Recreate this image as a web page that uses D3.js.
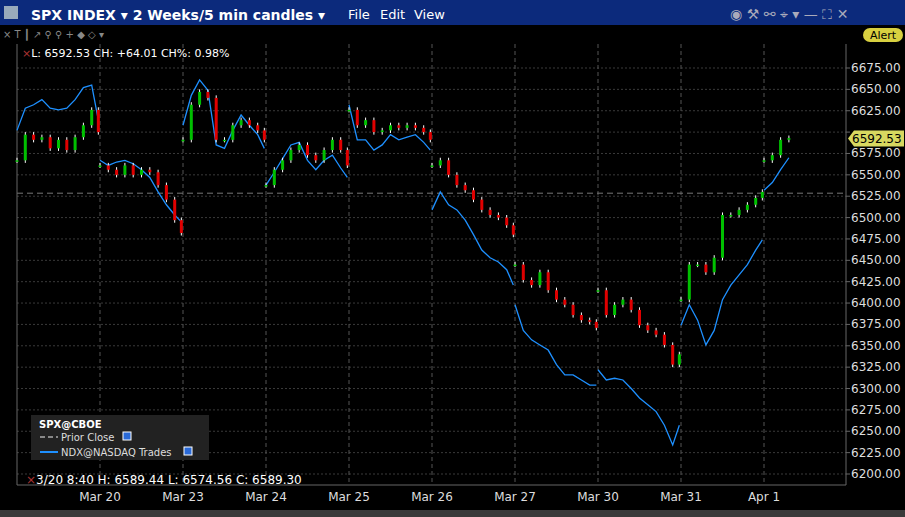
<!DOCTYPE html>
<html><head><meta charset="utf-8">
<script src="https://cdn.jsdelivr.net/npm/d3@7"></script>
<style>body{margin:0;background:#000;overflow:hidden}text{font-family:"DejaVu Sans",sans-serif}</style>
</head><body><div id="chart"></div>
<script>
const days = ['Mar 19','Mar 20','Mar 23','Mar 24','Mar 25','Mar 26','Mar 27','Mar 30','Mar 31','Apr 1'];
const fracs = [0, .1, .2, .3, .4, .5, .6, .7, .8, .9, .98];
const spx = [
  [6567,6597,6591,6594,6581,6591,6579,6594,6608,6626,6600],
  [6561,6556,6550,6561,6550,6556,6553,6538,6521,6497,6482],
  [6591,6632,6647,6640,6591,6591,6608,6614,6608,6602,6591],
  [6538,6556,6567,6579,6585,6573,6567,6579,6591,6579,6561],
  [6626,6608,6614,6600,6602,6608,6605,6608,6605,6600,6591],
  [6561,6567,6550,6538,6532,6521,6509,6503,6500,6491,6480],
  [6445,6427,6421,6436,6415,6404,6398,6386,6380,6378,6371],
  [6415,6386,6398,6404,6392,6374,6368,6363,6351,6328,6340],
  [6404,6445,6445,6436,6453,6503,6503,6509,6515,6523,6530],
  [6567,6573,6591,6593]
];
const ndx = [
  [6602,6628,6632,6638,6628,6626,6628,6638,6652,6655,6614],
  [6567,6561,6565,6567,6563,6556,6547,6530,6515,6503,6495],
  [6608,6643,6661,6649,6585,6581,6602,6620,6608,6597,6581],
  [6538,6553,6569,6585,6588,6567,6556,6567,6573,6558,6547],
  [6632,6591,6591,6579,6585,6597,6591,6594,6597,6588,6579],
  [6509,6530,6515,6509,6497,6480,6462,6453,6448,6439,6421],
  [6398,6368,6357,6351,6345,6328,6316,6316,6310,6304,6304],
  [6322,6310,6312,6310,6300,6289,6281,6273,6257,6234,6257],
  [6374,6398,6380,6351,6368,6404,6421,6433,6445,6462,6474],
  [6532,6541,6556,6570]
];
const yTicks = d3.range(6200, 6676, 25);
const priorClose = 6528.52, last = 6592.53;

const W = 905, H = 517;
const svg = d3.select('#chart').append('svg').attr('width', W).attr('height', H);
svg.append('rect').attr('width', W).attr('height', H).attr('fill', '#000');

const x = d3.scaleLinear().domain([0, 10]).range([17, 847]);
const y = d3.scaleLinear().domain([6200, 6675]).range([474, 68]);
const L = 17, R = 846, T = 44, B = 485;

// grid
const g = svg.append('g');
g.selectAll('.hg').data(yTicks).enter().append('line')
  .attr('x1', L).attr('x2', R).attr('y1', d => y(d)).attr('y2', d => y(d))
  .attr('stroke', '#3a3a3a').attr('stroke-dasharray', '2,2');
g.selectAll('.vg').data(d3.range(1, 10)).enter().append('line')
  .attr('x1', d => x(d)).attr('x2', d => x(d)).attr('y1', T).attr('y2', B)
  .attr('stroke', '#555').attr('stroke-dasharray', '4,3');
g.append('line').attr('x1', L).attr('x2', R).attr('y1', y(priorClose)).attr('y2', y(priorClose))
  .attr('stroke', '#777').attr('stroke-dasharray', '6,4');
g.append('path').attr('d', `M${L},${T}V${B}H${R}V${T}`).attr('fill', 'none').attr('stroke', '#666');

// y axis labels (the one under the last-price tag is hidden by it)
g.selectAll('.yl').data(yTicks.filter(d => Math.abs(y(d) - y(last)) > 10)).enter().append('text')
  .attr('x', 851).attr('y', d => y(d) + 4).attr('fill', '#ddd').attr('font-size', 12)
  .text(d => d.toFixed(2));
g.selectAll('.yt').data(yTicks).enter().append('line')
  .attr('x1', R).attr('x2', R + 4).attr('y1', d => y(d)).attr('y2', d => y(d)).attr('stroke', '#666');
// x labels
g.selectAll('.xl').data(days.slice(1)).enter().append('text')
  .attr('x', (d, i) => x(i + 1)).attr('y', 501).attr('text-anchor', 'middle')
  .attr('fill', '#ddd').attr('font-size', 12).text(d => d);

// NDX line, one path per day
const line = d3.line().x(d => x(d[0])).y(d => y(d[1]));
ndx.forEach((arr, di) => {
  g.append('path').datum(arr.map((v, k) => [di + fracs[k], v]))
    .attr('d', line).attr('fill', 'none').attr('stroke', '#1e90ff').attr('stroke-width', 1.3);
});

// SPX candles
const candles = [];
spx.forEach((arr, di) => arr.forEach((c, k) => {
  const o = k ? arr[k - 1] : c;
  candles.push({t: di + fracs[k], o, c, h: Math.max(o, c) + 3, l: Math.min(o, c) - 3});
}));
const cg = g.selectAll('.c').data(candles).enter().append('g');
cg.append('line').attr('x1', d => x(d.t)).attr('x2', d => x(d.t))
  .attr('y1', d => y(d.h)).attr('y2', d => y(d.l)).attr('stroke', '#fff');
cg.append('rect').attr('x', d => x(d.t) - 1.5).attr('width', 3)
  .attr('y', d => y(Math.max(d.o, d.c))).attr('height', d => Math.max(1.5, Math.abs(y(d.o) - y(d.c))))
  .attr('fill', d => d.c >= d.o ? '#00c000' : '#e00000');

// last price tag
const ly = y(last);
g.append('path').attr('d', `M${R + 2},${ly} l6,-8 h50 v16 h-50 z`).attr('fill', '#d8d860');
g.append('text').attr('x', 852).attr('y', ly + 5).attr('font-size', 12).attr('fill', '#000').text(last.toFixed(2));

// header
svg.append('rect').attr('width', W).attr('height', 25).attr('fill', '#0c2a7c');
svg.append('rect').attr('x', 4).attr('y', 6).attr('width', 14).attr('height', 13).attr('fill', '#9ab');
svg.append('text').attr('x', 31).attr('y', 20).attr('fill', '#fff').attr('font-size', 14).attr('font-weight', 'bold')
  .text('SPX INDEX \u25BE 2 Weeks/5 min candles \u25BE');
[['File', 348], ['Edit', 380], ['View', 414]].forEach(([t, px]) =>
  svg.append('text').attr('x', px).attr('y', 19).attr('fill', '#fff').attr('font-size', 13).text(t));
svg.append('text').attr('x', 730).attr('y', 19).attr('fill', '#aab').attr('font-size', 14).text('\u25C9 \u2692 \u26AF \u2316 \u25BE   \u2014  \u26F6  \u2715');
svg.append('rect').attr('x', 863).attr('y', 28).attr('width', 40).attr('height', 14).attr('rx', 7).attr('fill', '#d8d040');
svg.append('text').attr('x', 883).attr('y', 39).attr('text-anchor', 'middle').attr('font-size', 11).text('Alert');
svg.append('text').attr('x', 3).attr('y', 38).attr('fill', '#888').attr('font-size', 10).text('\u00D7 T \u2503 \u2197 \u26B2 \u26B2 + \u25C6 \u25C7 \u25BE');

// info line
svg.append('text').attr('x', 22).attr('y', 57).attr('fill', '#fff').attr('font-size', 11)
  .html('<tspan fill="#a33">\u00D7</tspan>L: 6592.53 CH: +64.01 CH%: 0.98%');
svg.append('text').attr('x', 26).attr('y', 484).attr('fill', '#fff').attr('font-size', 12)
  .html('<tspan fill="#a33">\u00D7</tspan>3/20 8:40  H: 6589.44  L: 6574.56  C: 6589.30');

// legend
const lg = svg.append('g');
lg.append('rect').attr('x', 31).attr('y', 415).attr('width', 178).attr('height', 45).attr('fill', '#222');
lg.append('text').attr('x', 39).attr('y', 428).attr('fill', '#fff').attr('font-size', 10).attr('font-weight', 'bold').text('SPX@CBOE');
lg.append('line').attr('x1', 40).attr('x2', 58).attr('y1', 437).attr('y2', 437).attr('stroke', '#888').attr('stroke-dasharray', '5,3').attr('stroke-width', 2);
lg.append('text').attr('x', 61).attr('y', 441).attr('fill', '#ddd').attr('font-size', 10).text('Prior Close');
lg.append('line').attr('x1', 40).attr('x2', 58).attr('y1', 452).attr('y2', 452).attr('stroke', '#1e90ff').attr('stroke-width', 2);
lg.append('text').attr('x', 61).attr('y', 456).attr('fill', '#ddd').attr('font-size', 10).text('NDX@NASDAQ Trades');
[[123, 432], [184, 447]].forEach(([bx, by]) =>
  lg.append('rect').attr('x', bx).attr('y', by).attr('width', 8).attr('height', 8).attr('fill', '#2a6ad8').attr('stroke', '#fff'));

// bottom navigator strip
svg.append('rect').attr('y', 510).attr('width', W).attr('height', 7).attr('fill', '#3a3a3a');
</script></body></html>
